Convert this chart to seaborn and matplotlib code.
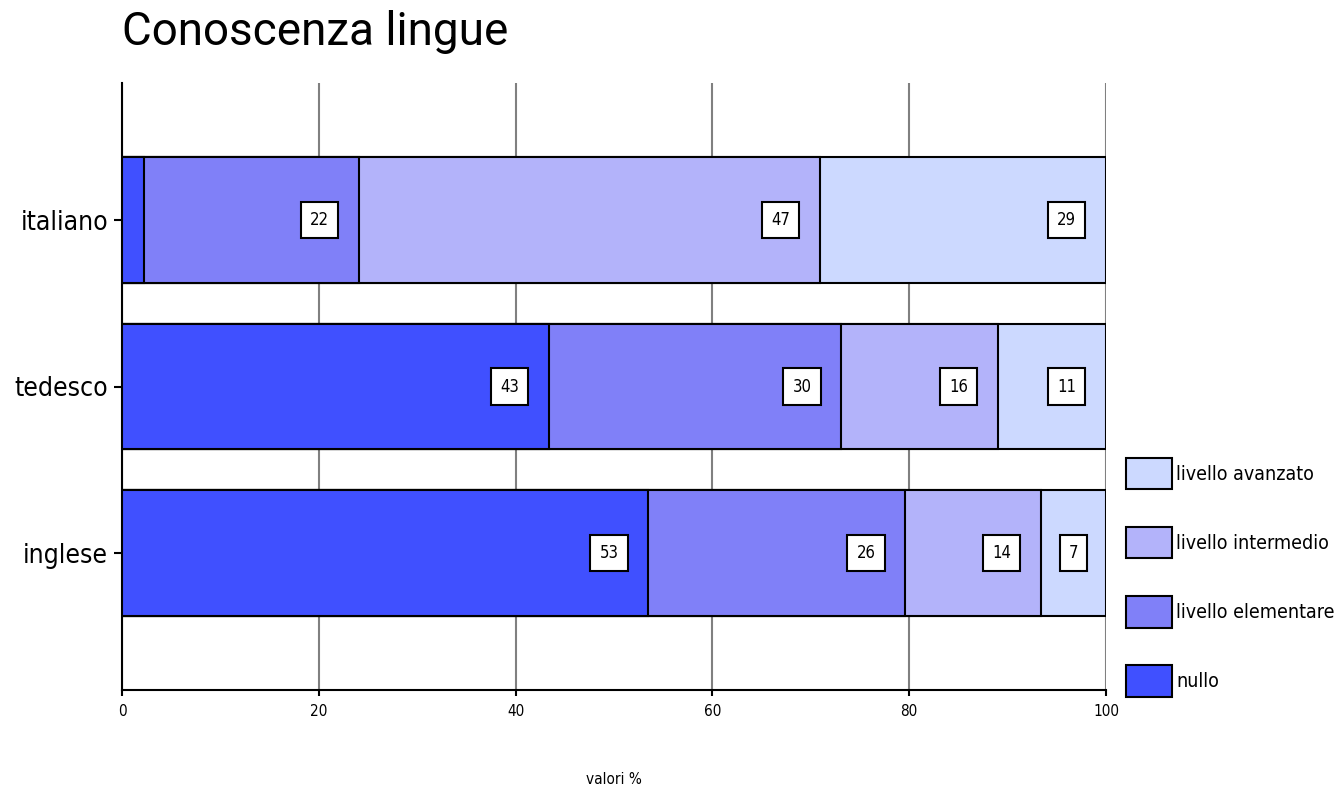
import matplotlib
matplotlib.use('Agg')
import matplotlib.pyplot as plt
import seaborn as sns
import pandas as pd
import numpy as np
from matplotlib.patches import Patch

languages = ['italiano', 'tedesco', 'inglese']
levels = ['nullo', 'livello elementare', 'livello intermedio', 'livello avanzato']
nullo = [2.2, 43.4, 53.5]
elementare = [21.9, 29.7, 26.1]
intermedio = [46.8, 15.9, 13.8]
avanzato = [29.1, 11.0, 6.6]
labels_shown = [[None, 22, 47, 29], [43, 30, 16, 11], [53, 26, 14, 7]]
colors = ['#4050FF', '#8080F8', '#B3B3FA', '#CCD9FF']

sns.set_style('white')
plt.rcParams['font.family'] = ['DejaVu Sans']
plt.rcParams['font.stretch'] = 'condensed'
for k in ['text.color', 'axes.labelcolor', 'xtick.color', 'ytick.color']:
    plt.rcParams[k] = 'black'

values = np.array([nullo, elementare, intermedio, avanzato])
cum = values.cumsum(axis=0)

fig = plt.figure(figsize=(13.43, 7.9), dpi=100)
ax = fig.add_axes([122 / 1343, 100 / 790, 984 / 1343, 607 / 790])

# draw cumulative totals from the longest down so each segment shows
for i in range(len(levels) - 1, -1, -1):
    df = pd.DataFrame({'lang': languages, 'val': cum[i]})
    sns.barplot(data=df, x='val', y='lang', orient='h', color=colors[i],
                saturation=1, width=0.755, edgecolor='black', linewidth=1.5,
                ax=ax, zorder=3)

for j, lang in enumerate(languages):
    for i in range(len(levels)):
        lab = labels_shown[j][i]
        if lab is None:
            continue
        right = cum[i][j]
        x = right - min(4.0, values[i][j] / 2)
        ax.text(x, j, str(lab), ha='center', va='center', fontsize=12,
                zorder=5,
                bbox=dict(boxstyle='square,pad=0.55', fc='white', ec='black', lw=1.5))

ax.set_xlim(0, 100)
ax.set_ylim(2.82, -0.82)
ax.set_xticks([0, 20, 40, 60, 80, 100])
ax.xaxis.grid(True, color='#808080', linewidth=1.5, zorder=0)
ax.set_axisbelow(True)
for s in ['top', 'right']:
    ax.spines[s].set_visible(False)
for s in ['left', 'bottom']:
    ax.spines[s].set_color('black')
    ax.spines[s].set_linewidth(1.5)
ax.tick_params(axis='y', labelsize=19, length=6, width=1.5, color='black', left=True, pad=4)
ax.tick_params(axis='x', labelsize=11, length=4, width=1.5, color='black', bottom=True, pad=6)
ax.set_ylabel('')
ax.set_xlabel('valori %', fontsize=11, labelpad=38)

fig.text(122 / 1343, 1 - 32 / 790, 'Conoscenza lingue', fontsize=33,
         family=['Roboto', 'DejaVu Sans'], fontstretch='normal', ha='left', va='center')

handles = [Patch(facecolor=colors[i], edgecolor='black', linewidth=1.5, label=levels[i])
           for i in range(len(levels) - 1, -1, -1)]
fig.legend(handles=handles, loc='upper left', bbox_to_anchor=(1118 / 1343, 1 - 450 / 790),
           frameon=False, fontsize=14, handlelength=2.4, handleheight=2.1,
           labelspacing=1.95, handletextpad=0.2, borderaxespad=0)

fig.savefig('out.png', dpi=100)
